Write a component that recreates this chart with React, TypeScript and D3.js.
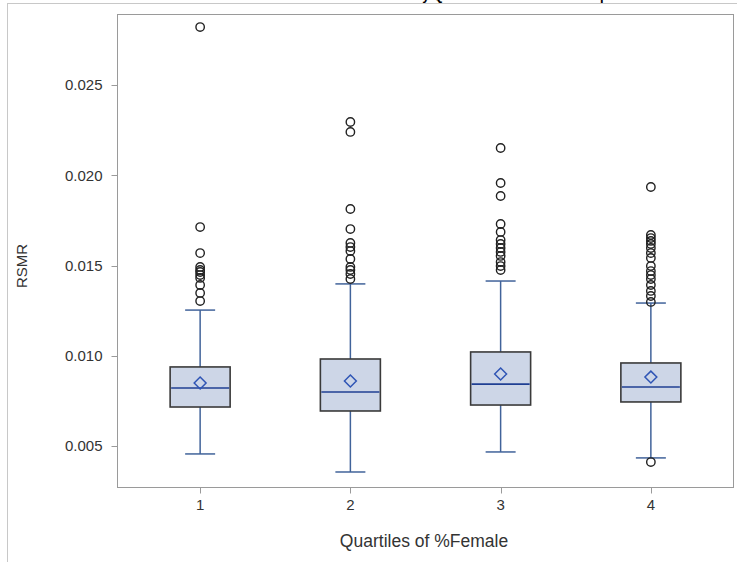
import React from "react";
import * as d3 from "d3";

const categories = ["1", "2", "3", "4"];
const q1 = [0.00716, 0.00694, 0.00727, 0.00744];
const medians = [0.00821, 0.00799, 0.00843, 0.00827];
const q3 = [0.00938, 0.00982, 0.01021, 0.0096];
const means = [0.00849, 0.0086, 0.00899, 0.00882];
const whiskerLow = [0.00456, 0.00356, 0.00467, 0.00434];
const whiskerHigh = [0.01253, 0.01398, 0.01414, 0.01292];
const outliers1 = [0.02821, 0.01713, 0.01569, 0.01492, 0.01475, 0.01464, 0.01447, 0.01431, 0.01392, 0.01348, 0.01303];
const outliers2 = [0.02295, 0.0224, 0.01813, 0.01702, 0.01625, 0.01602, 0.0158, 0.01536, 0.01492, 0.01475, 0.01453, 0.01425];
const outliers3 = [0.02151, 0.01957, 0.01885, 0.0173, 0.01686, 0.01641, 0.01619, 0.01597, 0.01575, 0.01553, 0.01519, 0.01497, 0.01475];
const outliers4 = [0.01935, 0.01669, 0.01652, 0.01636, 0.01619, 0.01597, 0.01569, 0.01542, 0.01497, 0.01469, 0.01447, 0.01425, 0.01392, 0.01359, 0.01331, 0.01298, 0.00411];
const yTicks = [0.005, 0.01, 0.015, 0.02, 0.025];
const title = "Distribution of RSMR by Quartiles of %Female Group";
const xLabel = "Quartiles of %Female";
const yLabel = "RSMR";

export default function App() {
  const W = 737;
  const H = 562;
  const left = 117.5;
  const right = 733.5;
  const top = 14.5;
  const bottom = 487.5;
  const x = d3.scalePoint<string>().domain(categories).range([left, right]).padding(0.55);
  const y = d3.scaleLinear().domain([0.005, 0.025]).range([446, 85]);
  const outliers = [outliers1, outliers2, outliers3, outliers4];
  const boxW = 60;
  const capW = 30;
  const font = "'Liberation Sans', Arial, sans-serif";
  const whiskColor = "#41639a";
  return (
    <svg width={W} height={H} style={{ position: "absolute", left: 0, top: 0 }} fontFamily={font}>
      <rect x={0} y={0} width={W} height={H} fill="#fff" />
      <rect x={7.5} y={3.5} width={760} height={600} fill="none" stroke="#c8c8c8" />
      <text x={444} y={-0.3} textAnchor="middle" fontWeight="bold" fontSize={13} fill="#000">{title}</text>
      <rect x={left} y={top} width={right - left} height={bottom - top} fill="#fff" stroke="#9a9a9a" />
      {yTicks.map((t) => (
        <g key={t}>
          <line x1={left - 6} x2={left} y1={Math.round(y(t)) + 0.5} y2={Math.round(y(t)) + 0.5} stroke="#9a9a9a" />
          <text x={left - 15} y={y(t)} dy="0.35em" textAnchor="end" fontSize={15} fill="#333">{d3.format(".3f")(t)}</text>
        </g>
      ))}
      {categories.map((c) => (
        <g key={c}>
          <line x1={Math.round(x(c)!) + 0.5} x2={Math.round(x(c)!) + 0.5} y1={bottom} y2={bottom + 6} stroke="#9a9a9a" />
          <text x={x(c)!} y={505} dy="0.35em" textAnchor="middle" fontSize={15} fill="#333">{c}</text>
        </g>
      ))}
      <text x={424} y={541} dy="0.35em" textAnchor="middle" fontSize={17.5} fill="#333">{xLabel}</text>
      <text transform={`translate(22,266) rotate(-90)`} dy="0.35em" textAnchor="middle" fontSize={15} fill="#333">{yLabel}</text>
      {categories.map((c, i) => {
        const cx = x(c)!;
        return (
          <g key={"b" + c}>
            <line x1={cx} x2={cx} y1={y(q3[i])} y2={y(whiskerHigh[i])} stroke={whiskColor} strokeWidth={1.5} />
            <line x1={cx} x2={cx} y1={y(q1[i])} y2={y(whiskerLow[i])} stroke={whiskColor} strokeWidth={1.5} />
            <line x1={cx - capW / 2} x2={cx + capW / 2} y1={y(whiskerHigh[i])} y2={y(whiskerHigh[i])} stroke={whiskColor} strokeWidth={1.5} />
            <line x1={cx - capW / 2} x2={cx + capW / 2} y1={y(whiskerLow[i])} y2={y(whiskerLow[i])} stroke={whiskColor} strokeWidth={1.5} />
            <rect x={cx - boxW / 2} y={y(q3[i])} width={boxW} height={y(q1[i]) - y(q3[i])} fill="#cdd6e7" stroke="#3a3a3a" strokeWidth={1.6} />
            <line x1={cx - boxW / 2 + 1} x2={cx + boxW / 2 - 1} y1={y(medians[i])} y2={y(medians[i])} stroke="#1f3f93" strokeWidth={1.6} />
            <path d={d3.symbol(d3.symbolDiamond2, 90)()!} transform={`translate(${cx},${y(means[i])})`} fill="none" stroke="#2f55b5" strokeWidth={1.5} />
            {outliers[i].map((v, j) => (
              <circle key={j} cx={cx} cy={y(v)} r={4.2} fill="none" stroke="#222" strokeWidth={1.4} />
            ))}
          </g>
        );
      })}
    </svg>
  );
}
